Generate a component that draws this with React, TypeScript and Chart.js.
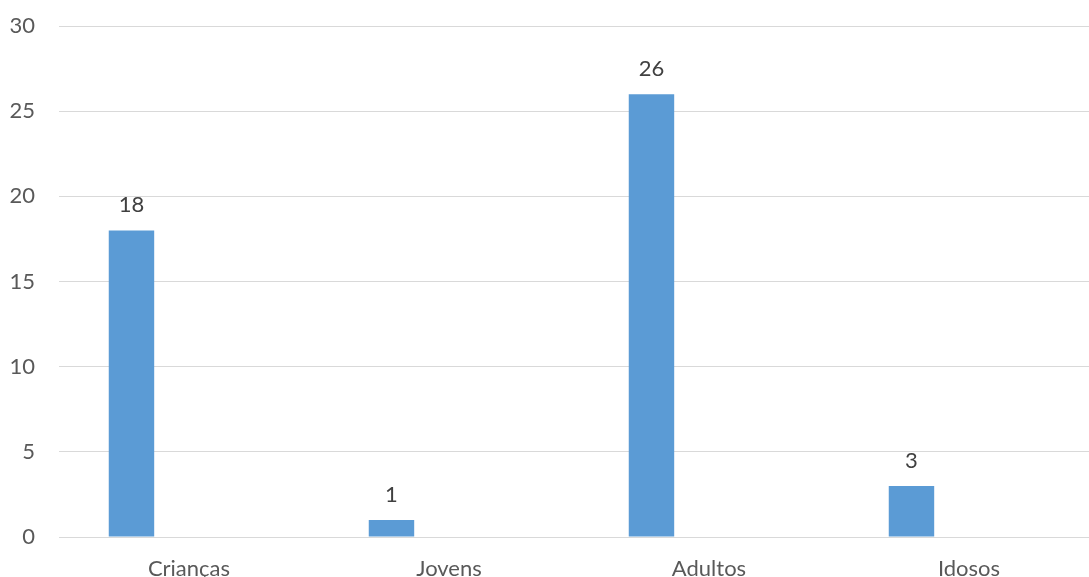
import React, { useEffect, useRef } from "react";
import { Chart, registerables } from "chart.js";

Chart.register(...registerables);

const categories = ["Crianças", "Jovens", "Adultos", "Idosos"];
const values = [18, 1, 26, 3];
const emptySeries = [null, null, null, null];
const yTicks = [0, 5, 10, 15, 20, 25, 30];

const FONT = "Lato, 'Noto Sans', sans-serif";

const dataLabelPlugin = {
  id: "dataLabels",
  afterDatasetsDraw(chart: any) {
    const ctx = chart.ctx;
    const meta = chart.getDatasetMeta(0);
    ctx.save();
    ctx.font = `22px ${FONT}`;
    ctx.fillStyle = "#404040";
    ctx.textAlign = "center";
    ctx.textBaseline = "middle";
    meta.data.forEach((bar: any, i: number) => {
      const v = chart.data.datasets[0].data[i];
      if (v == null) return;
      ctx.fillText(String(v), bar.x, bar.y - 25);
    });
    ctx.restore();
  },
};

export default function App() {
  const ref = useRef<HTMLCanvasElement>(null);
  useEffect(() => {
    if (!ref.current) return;
    const chart = new Chart(ref.current, {
      type: "bar",
      data: {
        labels: categories,
        datasets: [
          {
            data: values,
            backgroundColor: "#5b9bd5",
            borderWidth: 0,
            categoryPercentage: 0.885,
            barPercentage: 0.395,
          },
          {
            data: emptySeries as any,
            backgroundColor: "#ed7d31",
            borderWidth: 0,
            categoryPercentage: 0.885,
            barPercentage: 0.395,
          },
        ],
      },
      options: {
        animation: false,
        responsive: false,
        devicePixelRatio: 1,
        layout: { padding: { top: 26, right: 1, bottom: 0, left: 0 } },
        plugins: {
          legend: { display: false },
          tooltip: { enabled: false },
        },
        scales: {
          x: {
            grid: { display: false },
            border: { display: false },
            ticks: {
              color: "#595959",
              font: { family: FONT, size: 22 },
              padding: 11,
              maxRotation: 0,
              autoSkip: false,
            },
            afterFit(scale: any) {
              scale.height = 40;
              scale.paddingLeft = 0;
              scale.paddingRight = 0;
            },
          },
          y: {
            min: 0,
            max: 30,
            afterBuildTicks(scale: any) {
              scale.ticks = yTicks.map((v) => ({ value: v }));
            },
            grid: { color: "#d9d9d9", lineWidth: 1, drawTicks: false },
            border: { display: false },
            ticks: {
              color: "#595959",
              font: { family: FONT, size: 22 },
              padding: 24,
            },
            afterFit(scale: any) {
              scale.width = 59;
              scale.paddingTop = 0;
              scale.paddingBottom = 0;
            },
          },
        },
      },
      plugins: [dataLabelPlugin],
    });
    return () => chart.destroy();
  }, []);

  return (
    <div
      style={{
        position: "fixed",
        left: 0,
        top: 0,
        width: 1089,
        height: 577,
        overflow: "hidden",
        background: "#fff",
      }}
    >
      <canvas ref={ref} width={1100} height={577} style={{ display: "block" }} />
    </div>
  );
}
